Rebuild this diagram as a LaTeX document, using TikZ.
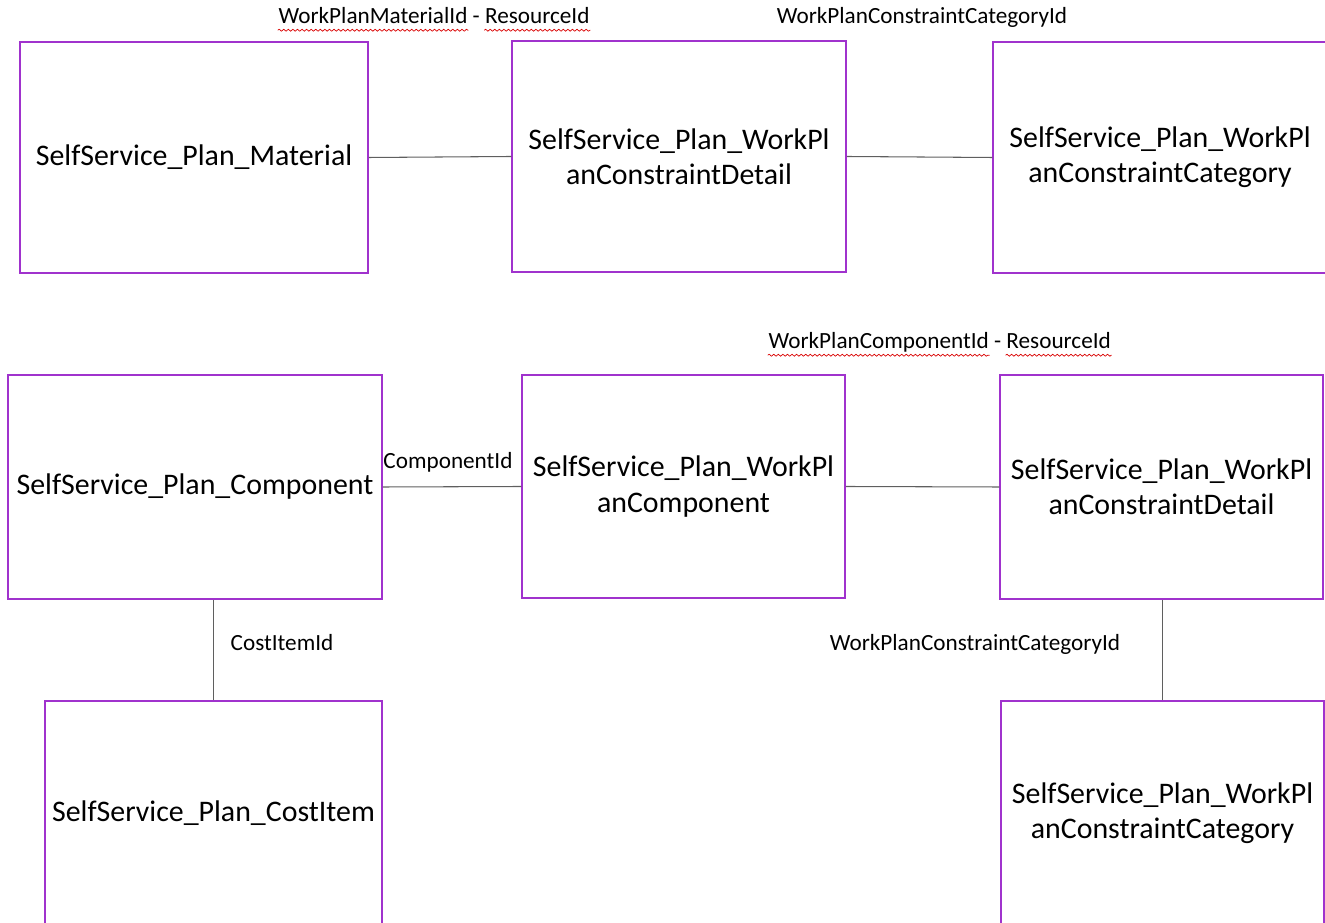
\documentclass[tikz,border=0pt]{standalone}
\usepackage{fontspec}
\setmainfont{Carlito}
\usepackage{xcolor}
\usetikzlibrary{positioning,decorations.pathmorphing}

\definecolor{borde}{RGB}{160,50,205}
\definecolor{arista}{RGB}{95,95,95}

\tikzset{
	tabla/.style={rectangle, draw=borde, line width=0.85pt, align=center,
		font=\fontsize{17}{20}\selectfont, inner sep=0pt},
	etiqueta/.style={font=\fontsize{13.2}{15}\selectfont, inner sep=1.3pt,
		text height=1.6ex, text depth=0.45ex},
	rel/.style={draw=arista, line width=0.6pt},
	ortog/.style={draw=red!85!black, line width=0.4pt,
		decorate, decoration={snake, amplitude=0.55pt, segment length=2.6pt}}
}

\begin{document}
\begin{tikzpicture}

		\useasboundingbox (0,0) rectangle (26.5,18.44);
		\clip (0,0) rectangle (26.5,18.44);

		% Tablas
		\node[tabla, minimum width=6.96cm, minimum height=4.62cm] (material) at (3.88,15.29) {SelfService\_Plan\_Material};
		\node[tabla, minimum width=6.68cm, minimum height=4.62cm] (detalle_a) at (13.58,15.31) {SelfService\_Plan\_WorkPl\\anConstraintDetail};
		\node[tabla, minimum width=6.68cm, minimum height=4.62cm] (categoria_a) at (23.2,15.29) {SelfService\_Plan\_WorkPl\\anConstraintCategory};

		\node[tabla, minimum width=7.48cm, minimum height=4.48cm] (componente) at (3.9,8.7) {SelfService\_Plan\_Component};
		\node[tabla, minimum width=6.46cm, minimum height=4.46cm] (wp_componente) at (13.67,8.71) {SelfService\_Plan\_WorkPl\\anComponent};
		\node[tabla, minimum width=6.46cm, minimum height=4.48cm] (detalle_b) at (23.23,8.7) {SelfService\_Plan\_WorkPl\\anConstraintDetail};

		\node[tabla, minimum width=6.74cm, minimum height=4.48cm] (costo) at (4.27,2.18) {SelfService\_Plan\_CostItem};
		\node[tabla, minimum width=6.46cm, minimum height=4.48cm] (categoria_b) at (23.25,2.18) {SelfService\_Plan\_WorkPl\\anConstraintCategory};

		% Etiquetas
		\node[etiqueta, anchor=west] (et_material) at (5.52,18.06) {WorkPlanMaterialId};
		\node[etiqueta, right=0pt of et_material] (et_material_guion) {-};
		\node[etiqueta, right=0pt of et_material_guion] (et_material_rec) {ResourceId};
		\node[etiqueta] (et_categoria_a) at (18.44,18.06) {WorkPlanConstraintCategoryId};

		\node[etiqueta, anchor=west] (et_wp_componente) at (15.32,11.56) {WorkPlanComponentId};
		\node[etiqueta, right=0pt of et_wp_componente] (et_wp_guion) {-};
		\node[etiqueta, right=0pt of et_wp_guion] (et_wp_rec) {ResourceId};

		\node[etiqueta] (et_componente) at (8.96,9.16) {ComponentId};
		\node[etiqueta] (et_costo) at (5.64,5.52) {CostItemId};
		\node[etiqueta] (et_categoria_b) at (19.5,5.52) {WorkPlanConstraintCategoryId};

		% subrayado del corrector
		\foreach \p in {et_material, et_material_rec, et_wp_componente, et_wp_rec}
			\draw[ortog] ([xshift=1pt]\p.south west) -- ([xshift=-1pt]\p.south east);

		% Relaciones
		\draw[rel] (material.east) -- (detalle_a.west);
		\draw[rel] (detalle_a.east) -- (categoria_a.west);
		\draw[rel] (componente.east) -- (wp_componente.west);
		\draw[rel] (wp_componente.east) -- (detalle_b.west);
		\draw[rel] (costo.north) -- (costo.north |- componente.south);
		\draw[rel] (categoria_b.north) -- (categoria_b.north |- detalle_b.south);

	\end{tikzpicture}
\end{document}
